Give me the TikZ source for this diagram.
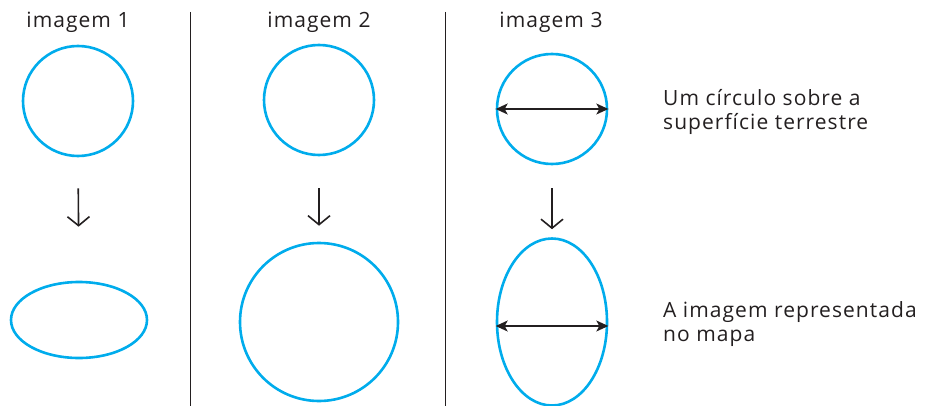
\documentclass[tikz,border=0pt]{standalone}
\usepackage{fontspec}
\setmainfont{Open Sans}
\newfontfamily\labelfont{Open Sans}[LetterSpace=5]
\usetikzlibrary{arrows.meta,shapes.geometric}
\definecolor{globeblue}{RGB}{0,172,236}
\definecolor{arrowgray}{RGB}{35,31,32}

\begin{document}
\begin{tikzpicture}[x=1pt,y=-1pt,
    round/.style={circle,draw=globeblue,line width=2.6pt,inner sep=0pt,minimum size=#1},
    oval/.style={ellipse,draw=globeblue,line width=2.6pt,inner sep=0pt},
    title/.style={text=arrowgray,font=\labelfont\fontsize{21}{24}\selectfont},
    caption/.style={anchor=west,align=left,inner sep=0pt,text=arrowgray,font=\labelfont\fontsize{21}{24}\selectfont},
    down/.style={arrowgray,line width=1.6pt,-{Straight Barb[length=9pt,width=22pt,line width=1.6pt]}},
    across/.style={arrowgray,line width=1.4pt,{Stealth[length=12pt,width=11pt,inset=3pt]}-{Stealth[length=12pt,width=11pt,inset=3pt]}},
    divider/.style={draw=arrowgray,line width=0.9pt}]
  \useasboundingbox (0,0) rectangle (925,406);

  % titles
  \node[title] (t1) at (78,22)  {imagem 1};
  \node[title] (t2) at (319,22) {imagem 2};
  \node[title] (t3) at (551,22) {imagem 3};

  % dividers
  \draw[divider] (190,12) -- (190,406);
  \draw[divider] (445,12) -- (445,406);

  % imagem 1
  \node[round=110pt] (c1) at (78,101) {};
  \node[oval,minimum width=136pt,minimum height=76pt] (e1) at (79,320) {};
  \draw[down,shorten <=31pt,shorten >=54pt] (c1.south) -- (e1.north);

  % imagem 2
  \node[round=110pt] (c2) at (319,100) {};
  \node[round=158pt] (e2) at (319,322) {};
  \draw[down,shorten <=32pt,shorten >=16pt] (c2.south) -- (e2.north);

  % imagem 3
  \node[round=110pt] (c3) at (552,109) {};
  \node[oval,minimum width=110pt,minimum height=167pt] (e3) at (552,322) {};
  \draw[down,shorten <=23pt,shorten >=8pt] (c3.south) -- (e3.north);
  \draw[across] (c3.west) -- (c3.east);
  \draw[across] ([yshift=-4pt]e3.west) -- ([yshift=-4pt]e3.east);

  % captions
  \node[caption] (s1) at (663,112) {Um círculo sobre a\\superfície terrestre};
  \node[caption] (s2) at (663,324) {A imagem representada\\no mapa};
\end{tikzpicture}
\end{document}
